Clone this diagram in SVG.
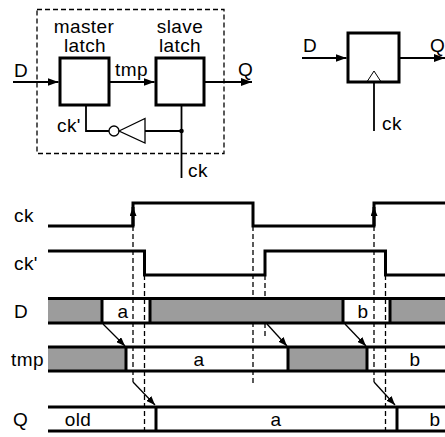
<svg xmlns="http://www.w3.org/2000/svg" width="445" height="437" viewBox="0 0 445 437">
<style>
text { font-family: "Liberation Sans", Arial, Helvetica, sans-serif; font-size: 19px; fill: #000; letter-spacing: 0.4px; }
.mid { text-anchor: middle; }
.box { fill: #fff; stroke: #000; stroke-width: 3; }
.wire { fill: none; stroke: #000; stroke-width: 1.8; }
.thin { fill: none; stroke: #000; stroke-width: 1.3; }
.dash { fill: none; stroke: #000; stroke-width: 1.3; stroke-dasharray: 5 3; }
.wave { fill: none; stroke: #000; stroke-width: 3; }
.gray { fill: #9c9c9c; stroke: none; }
</style>
<defs>
<marker id="ah" markerWidth="11" markerHeight="8" refX="11" refY="4" orient="auto" markerUnits="userSpaceOnUse"><path d="M0,0 L11,4 L0,8 z" fill="#000"/></marker>
<marker id="ahs" markerWidth="9" markerHeight="7" refX="9" refY="3.5" orient="auto" markerUnits="userSpaceOnUse"><path d="M0,0 L9,3.5 L0,7 z" fill="#000"/></marker>
</defs>

<!-- master/slave circuit -->
<g id="circuit-boundary">
<rect x="37" y="9.5" width="187" height="144" class="dash"/>
</g>
<g id="master-latch">
<rect x="60" y="58" width="49" height="47" class="box"/>
<text x="84" y="33" class="mid">master</text>
<text x="85" y="52" class="mid">latch</text>
</g>
<g id="slave-latch">
<rect x="156" y="58" width="48" height="47" class="box"/>
<text x="180" y="33" class="mid">slave</text>
<text x="180" y="52" class="mid">latch</text>
</g>
<g id="inverter">
<circle cx="114" cy="131" r="5" class="thin" fill="#fff"/>
<polygon points="119,131 145,118.5 145,143" class="thin"/>
</g>
<g id="flip-flop">
<rect x="348" y="33" width="51" height="49" class="box"/>
<polygon points="367.5,81 374,71 380.5,81" fill="#fff" stroke="#000" stroke-width="1"/>
</g>

<g id="connectors">
<line x1="13" y1="82" x2="58.5" y2="82" class="wire" marker-end="url(#ah)"/>
<line x1="109" y1="82" x2="154.5" y2="82" class="wire" marker-end="url(#ah)"/>
<line x1="204" y1="82" x2="252" y2="82" class="wire" marker-end="url(#ah)"/>
<polyline points="86,105 86,131 109,131" class="wire"/>
<line x1="145" y1="131" x2="181.5" y2="131" class="wire"/>
<circle cx="181.5" cy="131" r="2.3" fill="#000"/>
<line x1="181.5" y1="105" x2="181.5" y2="178" class="wire"/>
<line x1="302" y1="58" x2="346.5" y2="58" class="wire" marker-end="url(#ah)"/>
<line x1="399" y1="58" x2="445" y2="58" class="wire" marker-end="url(#ah)"/>
<line x1="374" y1="82" x2="374" y2="131" class="wire"/>
</g>

<g id="circuit-labels">
<text x="14" y="77">D</text>
<text x="115" y="76">tmp</text>
<text x="238" y="76">Q</text>
<text x="57" y="132">ck'</text>
<text x="188" y="177">ck</text>
<text x="303" y="52">D</text>
<text x="430" y="52">Q</text>
<text x="382" y="130">ck</text>
</g>

<!-- timing diagram -->
<g id="timing-dashes">
<polyline points="133,226 133,382" class="dash"/>
<polyline points="144.5,275 144.5,432" class="dash"/>
<polyline points="253,226 253,384" class="dash"/>
<polyline points="265,275 265,336" class="dash"/>
<polyline points="374,226 374,382" class="dash"/>
<polyline points="385.5,275 385.5,432" class="dash"/>
</g>

<g id="timing-fills">
<rect x="48" y="298.5" width="54" height="24.5" class="gray"/>
<rect x="150" y="298.5" width="193" height="24.5" class="gray"/>
<rect x="390" y="298.5" width="55" height="24.5" class="gray"/>
<rect x="48" y="347" width="78" height="24" class="gray"/>
<rect x="288" y="347" width="79" height="24" class="gray"/>
</g>

<g id="timing-waves">
<polyline points="48,226 133,226 133,203 253,203 253,226 374,226 374,203 445,203" class="wave"/>
<polyline points="48,251 144.5,251 144.5,275 265,275 265,251 385.5,251 385.5,275 445,275" class="wave"/>
<line x1="133" y1="226" x2="133" y2="207" class="wave" marker-end="url(#ahs)"/>
<line x1="374" y1="226" x2="374" y2="207" class="wave" marker-end="url(#ahs)"/>
<!-- D -->
<line x1="48" y1="298.5" x2="445" y2="298.5" class="wave"/>
<line x1="48" y1="323" x2="445" y2="323" class="wave"/>
<line x1="102" y1="298.5" x2="102" y2="323" class="wave"/>
<line x1="150" y1="298.5" x2="150" y2="323" class="wave"/>
<line x1="343" y1="298.5" x2="343" y2="323" class="wave"/>
<line x1="390" y1="298.5" x2="390" y2="323" class="wave"/>
<!-- tmp -->
<line x1="48" y1="347" x2="445" y2="347" class="wave"/>
<line x1="48" y1="371" x2="445" y2="371" class="wave"/>
<line x1="126" y1="347" x2="126" y2="371" class="wave"/>
<line x1="288" y1="347" x2="288" y2="371" class="wave"/>
<line x1="367" y1="347" x2="367" y2="371" class="wave"/>
<!-- Q -->
<line x1="48" y1="407" x2="445" y2="407" class="wave"/>
<line x1="48" y1="431" x2="445" y2="431" class="wave"/>
<line x1="156" y1="407" x2="156" y2="431" class="wave"/>
<line x1="397" y1="407" x2="397" y2="431" class="wave"/>
</g>

<g id="timing-arrows">
<line x1="103" y1="324" x2="125" y2="346" class="thin" marker-end="url(#ahs)"/>
<line x1="267" y1="324" x2="287" y2="346" class="thin" marker-end="url(#ahs)"/>
<line x1="345" y1="324" x2="366" y2="346" class="thin" marker-end="url(#ahs)"/>
<line x1="133" y1="382" x2="155" y2="405" class="thin" marker-end="url(#ahs)"/>
<line x1="374" y1="382" x2="395" y2="405" class="thin" marker-end="url(#ahs)"/>
</g>

<g id="timing-labels">
<text x="14" y="222">ck</text>
<text x="14" y="270">ck'</text>
<text x="14" y="318">D</text>
<text x="11" y="366">tmp</text>
<text x="13" y="426">Q</text>
<text x="123" y="318" class="mid">a</text>
<text x="363" y="318" class="mid">b</text>
<text x="199" y="366" class="mid">a</text>
<text x="415" y="366" class="mid">b</text>
<text x="78" y="426" class="mid">old</text>
<text x="276" y="426" class="mid">a</text>
<text x="435" y="426" class="mid">b</text>
</g>
</svg>
